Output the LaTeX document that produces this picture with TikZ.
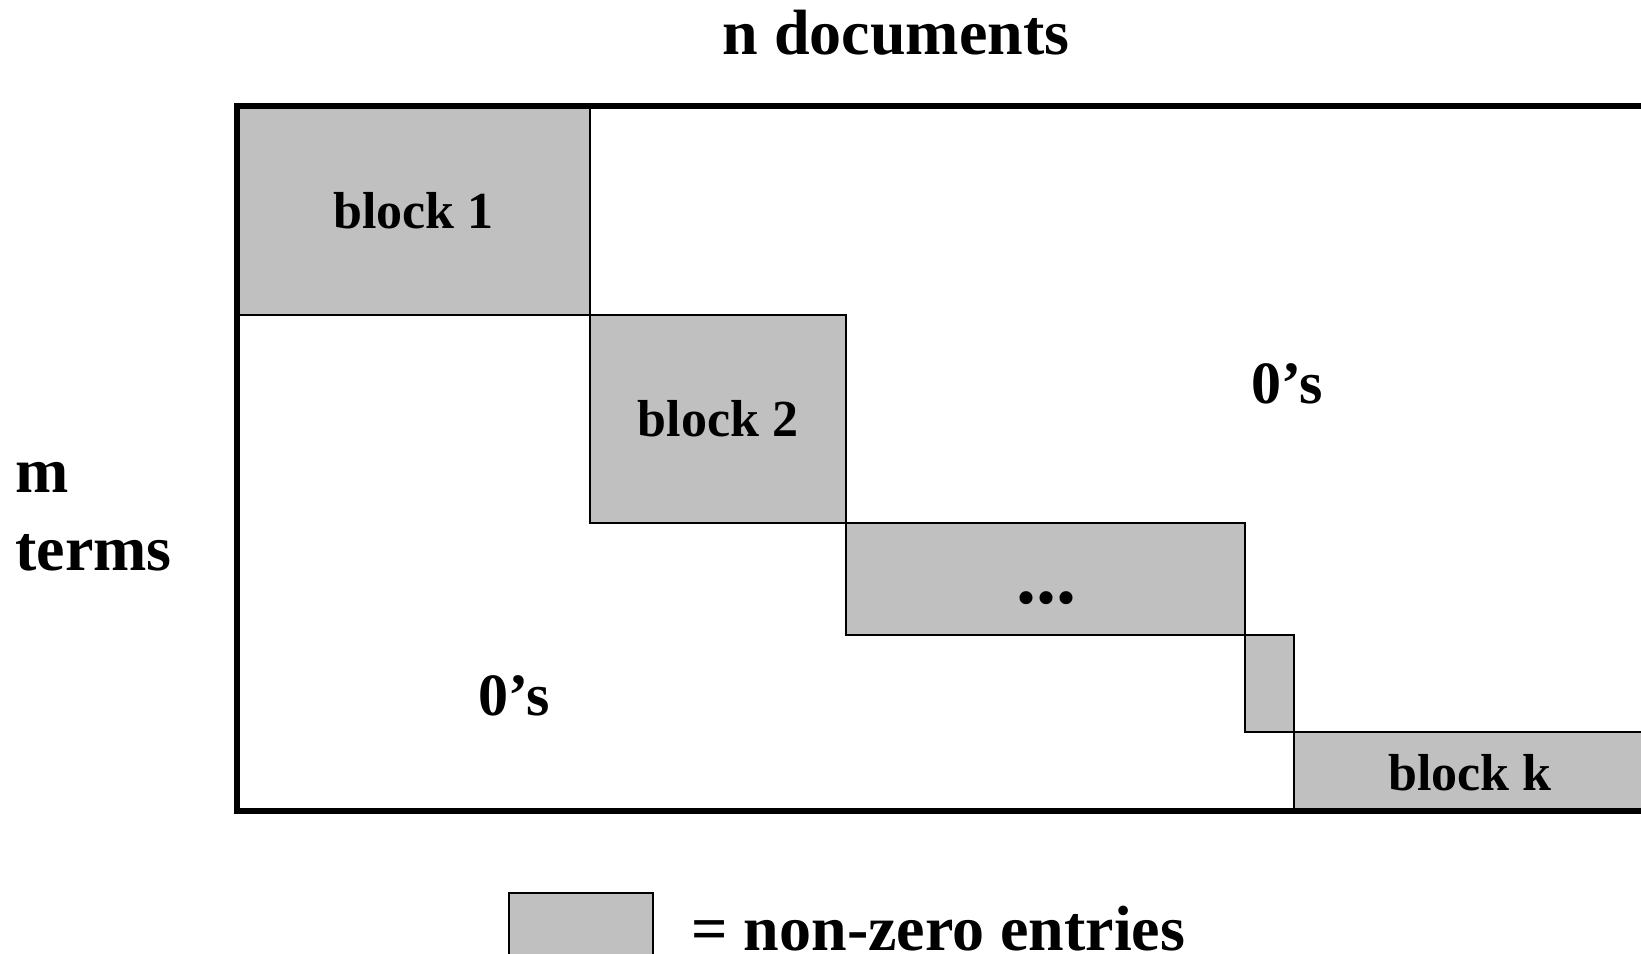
\documentclass[tikz,border=0pt]{standalone}
\usepackage{fontspec}
\setmainfont{Liberation Serif}
\begin{document}
\begin{tikzpicture}[x=0.5pt,y=-0.5pt,
  blk/.style={fill=nzgray,draw=black,line width=1pt},
  frame/.style={draw=black,line width=3pt},
  blabel/.style={font=\fontsize{26}{30}\selectfont\bfseries,inner sep=0pt},
  dlabel/.style={font=\fontsize{40}{46}\selectfont\bfseries,inner sep=0pt},
  zlabel/.style={font=\fontsize{30}{36}\selectfont\bfseries,inner sep=0pt},
  big/.style={font=\fontsize{32}{38}\selectfont\bfseries,inner sep=0pt}]
\definecolor{nzgray}{RGB}{192,192,192}
\useasboundingbox (0,0) rectangle (1641,953);
\clip (0,0) rectangle (1641,953);
% blocks
\draw[blk] (237,106) rectangle (590,315);
\draw[blk] (590,315) rectangle (846,523);
\draw[blk] (846,523) rectangle (1245,635);
\draw[blk] (1245,635) rectangle (1294,732);
\draw[blk] (1294,732) rectangle (1648,811);
% frame
\draw[frame] (237,106) rectangle (1648,811);
% labels
\node[blabel] (b1) at (413.5,211) {block 1};
\node[blabel] (b2) at (718,419) {block 2};
\node[dlabel,anchor=base] (b3) at (1046,603) {...};
\node[blabel] (bk) at (1470,773) {block k};
\node[zlabel] (z1) at (1287,384) {0’s};
\node[zlabel] (z2) at (514,696) {0’s};
\node[big,anchor=base] (title) at (896,54) {n documents};
\node[big,anchor=base west] (m) at (15,492) {m};
\node[big,anchor=base west] (terms) at (15,570) {terms};
% legend
\draw[blk] (509,893) rectangle (653,970);
\node[big,anchor=base west] (leg) at (691,950) {= non-zero entries};
\end{tikzpicture}
\end{document}
